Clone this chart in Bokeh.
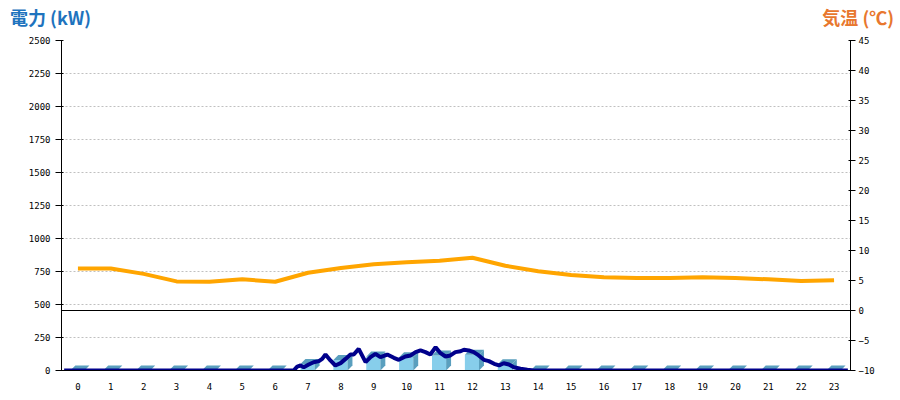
from bokeh.plotting import figure
from bokeh.models import Range1d, LinearAxis, FixedTicker, Span, Div
from bokeh.layouts import column
from bokeh.embed import file_html
from bokeh.resources import INLINE

# ---- data ----
hours = list(range(24))
hour_labels = [str(h) for h in hours]
bar_kw = [0, 0, 0, 0, 0, 0, 0, 50, 80, 105, 100, 113, 120, 48,
          0, 0, 0, 0, 0, 0, 0, 0, 0, 0]
temp_c = [7.0, 7.0, 6.1, 4.85, 4.8, 5.2, 4.8, 6.3, 7.1, 7.7, 8.05, 8.3,
          8.8, 7.45, 6.55, 5.9, 5.55, 5.4, 5.4, 5.55, 5.4, 5.2, 4.9, 5.05]
power_t = [0.08, 7.06, 7.17, 7.27, 7.37, 7.52, 7.67, 7.83, 7.93, 8.03, 8.18,
           8.33, 8.49, 8.64, 8.79, 8.89, 9.04, 9.25, 9.40, 9.55, 9.70, 9.91,
           10.11, 10.26, 10.46, 10.62, 10.77, 10.92, 11.07, 11.22, 11.38,
           11.53, 11.68, 11.83, 11.98, 12.14, 12.24, 12.39, 12.54, 12.69,
           12.85, 13.00, 13.16, 13.31, 13.45, 13.61, 13.76, 13.96, 14.17,
           14.37, 23.92]
power_kw = [0, 0, 30, 38, 25, 45, 63, 71, 88, 121, 76,
            38, 56, 88, 121, 121, 164, 63, 101, 126, 101, 121,
            96, 81, 106, 114, 139, 152, 139, 121, 177,
            131, 106, 114, 139, 146, 157, 152, 139, 114,
            81, 71, 51, 38, 55, 45, 25, 13, 5,
            0, 0]
kw_ticks = list(range(0, 2501, 250))
temp_ticks = list(range(-10, 46, 5))
title_power = "電力 (kW)"
title_temp = "気温 (℃)"

# ---- header with the two titles ----
HEAD_H = 28
header = Div(
    text=(
        '<div style="position:relative;width:900px;height:%dpx;'
        "font-family:'Noto Sans CJK JP';font-weight:bold;font-size:18px;"
        'line-height:18px;">'
        '<span style="position:absolute;left:10px;top:8px;color:#1E73BE;">%s</span>'
        '<span style="position:absolute;right:6px;top:8px;color:#E8772E;">%s</span>'
        '</div>' % (HEAD_H, title_power, title_temp)
    ),
    width=900, height=HEAD_H, margin=0,
)

# ---- figure ----
W, H = 900, 400 - HEAD_H
p = figure(width=W, height=H, output_backend="svg", toolbar_location=None,
           x_range=Range1d(0, 24), y_range=Range1d(0, 2500),
           min_border_left=61, min_border_right=50, min_border_top=12,
           min_border_bottom=30, outline_line_color=None,
           background_fill_color="white", border_fill_color="white",
           margin=0)
p.extra_y_ranges = {"temp": Range1d(-10, 45)}

tick_font = "DejaVu Sans Mono"
# x axis
p.xaxis.ticker = FixedTicker(ticks=[h + 0.5 for h in hours])
p.xaxis.major_label_overrides = {h + 0.5: lab for h, lab in zip(hours, hour_labels)}
p.xaxis.major_tick_line_color = None
p.xaxis.minor_tick_line_color = None
p.xaxis.major_label_standoff = 6
# left axis
p.yaxis.ticker = FixedTicker(ticks=kw_ticks)
p.yaxis.major_tick_out = 6
p.yaxis.major_tick_in = 2
p.yaxis.minor_tick_line_color = None
p.yaxis.major_label_standoff = 5
# right axis
rax = LinearAxis(y_range_name="temp", ticker=FixedTicker(ticks=temp_ticks))
rax.major_tick_out = 5
rax.major_tick_in = 2
rax.minor_tick_line_color = None
rax.major_label_standoff = 3
p.add_layout(rax, "right")
for ax in (p.xaxis[0], p.yaxis[0], rax):
    ax.major_label_text_font = tick_font
    ax.major_label_text_font_size = "9px"
    ax.major_label_text_color = "black"
    ax.axis_line_color = "black"
p.yaxis.major_tick_line_color = "black"
rax.major_tick_line_color = "black"

p.xgrid.grid_line_color = None
p.ygrid.ticker = FixedTicker(ticks=kw_ticks)
p.ygrid.grid_line_color = "#c0c0c0"
p.ygrid.grid_line_dash = "2 2"

# ---- 3D bars ----
left_off, right_off, dx = 0.27, 0.70, 0.15
dy = 38.0
fx, fy, sx, sy, tx, ty = [], [], [], [], [], []
for h, v in zip(hours, bar_kw):
    x0, x1 = h + left_off, h + right_off
    fx.append([x0, x1, x1, x0]); fy.append([0, 0, v, v])
    sx.append([x1, x1 + dx, x1 + dx, x1]); sy.append([0, dy, v + dy, v])
    tx.append([x0, x1, x1 + dx, x0 + dx]); ty.append([v, v, v + dy, v + dy])
p.patches(fx, fy, fill_color="#87CEEB", line_color=None)
p.patches(sx, sy, fill_color="#5A9FBE", line_color=None)
p.patches(tx, ty, fill_color="#5A9FBE", line_color=None)

# zero line of temperature axis
p.add_layout(Span(location=0, dimension="width", y_range_name="temp",
                  line_color="black", line_width=1))

# power line
p.line(power_t, power_kw, line_color="#00008B", line_width=4)
# temperature line
p.line([h + 0.5 for h in hours], temp_c, y_range_name="temp",
       line_color="#FFA500", line_width=4)

layout = column(header, p, spacing=0, margin=0)
open("out.html", "w").write(file_html(layout, INLINE))
